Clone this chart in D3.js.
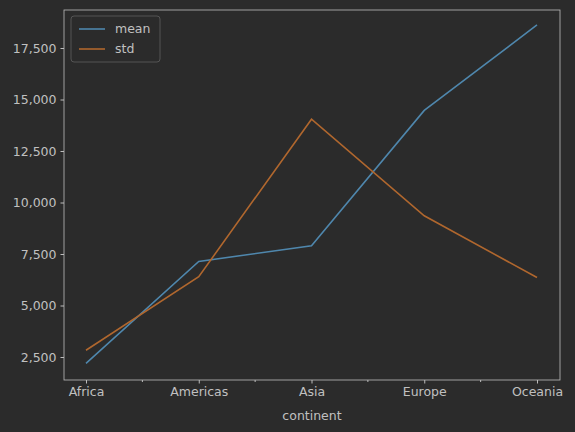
<!DOCTYPE html>
<html><head><meta charset="utf-8">
<script src="https://cdn.jsdelivr.net/npm/d3@7"></script>
<style>body{margin:0;background:#2b2b2b}text{font-family:"DejaVu Sans",sans-serif}</style>
</head><body>
<svg id="c" width="575" height="432"></svg>
<script>
// data: gdp per capita by continent
var continents = ["Africa","Americas","Asia","Europe","Oceania"]
var meanVals = [2193.75, 7136.11, 7902.15, 14469.48, 18621.61]
var stdVals = [2827.93, 6396.76, 14045.37, 9355.21, 6358.98]
var yTicks = [2500,5000,7500,10000,12500,15000,17500]

var svg = d3.select("#c")
var fg = "#c0c0c0"
svg.append("rect").attr("width",575).attr("height",432).attr("fill","#2b2b2b")

var pLeft=64, pRight=560, pTop=10, pBottom=380
var x = d3.scalePoint().domain(continents).range([86,537])
var y = d3.scaleLinear().domain([1384,19345]).range([pBottom,pTop])

// frame
svg.append("rect").attr("x",pLeft).attr("y",pTop).attr("width",pRight-pLeft).attr("height",pBottom-pTop)
  .attr("fill","none").attr("stroke","#bdbdbd").attr("stroke-width",0.8)

var xa = svg.append("g").attr("transform",`translate(0,${pBottom})`)
  .call(d3.axisBottom(x).tickSize(3.5).tickPadding(4))
// minor ticks between categories
var mids = continents.slice(1).map((c,i)=>(x(c)+x(continents[i]))/2)
xa.selectAll(".minor").data(mids).enter().append("line")
  .attr("x1",d=>d).attr("x2",d=>d).attr("y1",0).attr("y2",2)
var ya = svg.append("g").attr("transform",`translate(${pLeft},0)`)
  .call(d3.axisLeft(y).tickValues(yTicks).tickSize(3.5).tickPadding(4))
;[xa,ya].forEach(g=>{
  g.select(".domain").remove()
  g.selectAll("line").attr("stroke","#bdbdbd")
  g.selectAll("text").attr("fill",fg).attr("font-size",12.5)
})
svg.append("text").attr("x",(pLeft+pRight)/2).attr("y",420).attr("text-anchor","middle")
  .attr("fill",fg).attr("font-size",12.5).text("continent")

var series = [{name:"mean",vals:meanVals,color:"#4f87ad"},{name:"std",vals:stdVals,color:"#b0672e"}]
var line = d3.line().x((d,i)=>x(continents[i])).y(d=>y(d))
series.forEach(s=>{
  svg.append("path").attr("d",line(s.vals)).attr("fill","none").attr("stroke",s.color).attr("stroke-width",1.6)
})

// legend
var lg = svg.append("g").attr("transform","translate(71,16)")
lg.append("rect").attr("width",89).attr("height",46).attr("rx",3).attr("fill","#2b2b2b").attr("stroke","#555")
series.forEach((s,i)=>{
  lg.append("line").attr("x1",8).attr("x2",34).attr("y1",13+i*20).attr("y2",13+i*20).attr("stroke",s.color).attr("stroke-width",1.6)
  lg.append("text").attr("x",44).attr("y",17+i*20).attr("fill",fg).attr("font-size",12.5).text(s.name)
})
</script>
</body></html>
